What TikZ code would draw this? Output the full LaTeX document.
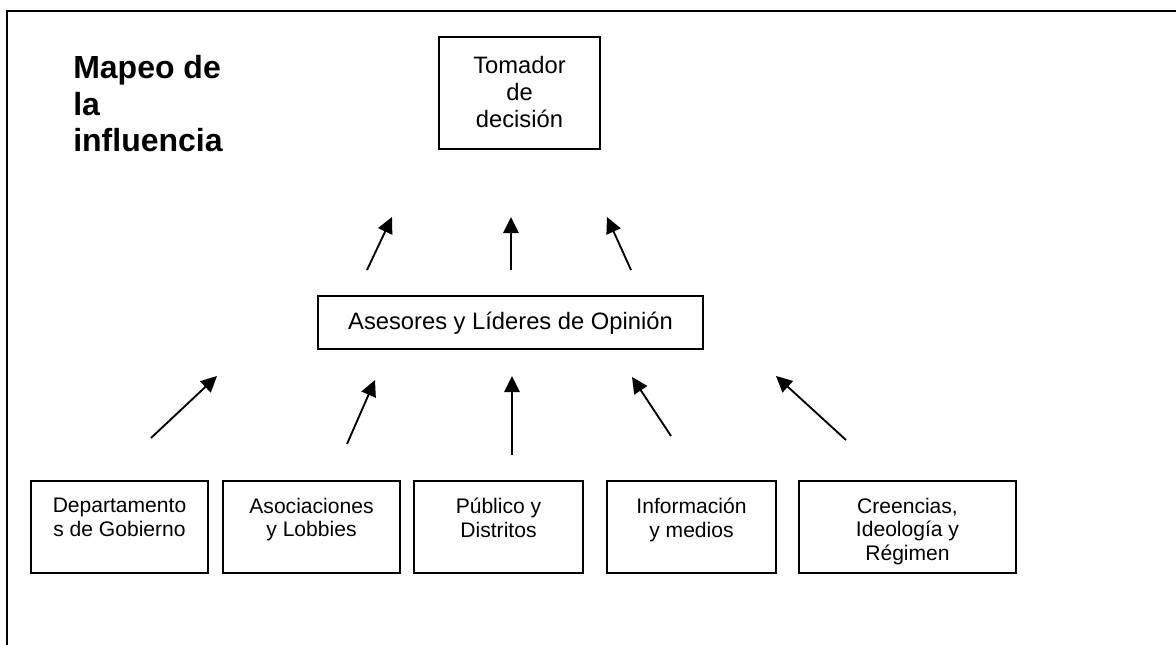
\documentclass[tikz,border=0pt]{standalone}
\usepackage{fontspec}
\setmainfont{Liberation Sans}
\usetikzlibrary{arrows.meta}
\begin{document}
\begin{tikzpicture}[x=0.75pt,y=-0.75pt,
  box/.style={draw, line width=1.5pt, inner sep=0pt},
  lbl/.style={inner sep=0pt, align=center, anchor=north, font=\fontsize{17.8}{20.3}\selectfont},
  slbl/.style={inner sep=0pt, align=center, anchor=north, font=\fontsize{15.8}{17.5}\selectfont},
  ttl/.style={inner sep=0pt, align=left, anchor=north west, font=\bfseries\fontsize{24}{27.5}\selectfont},
  arr/.style={line width=1.4pt, -{Triangle[length=12pt,width=11.5pt]}},
  frame/.style={line width=1.5pt}]
\useasboundingbox (0,0) rectangle (1176,645);
\draw[frame] (7,645) -- (7,11) -- (1176,11);

\node[ttl] (title) at (73,55) {Mapeo de\\la\\influencia};

\node[box, minimum width=120.75pt, minimum height=84pt] (top) at (519.5,93) {};
\node[lbl] (toptxt) at ([yshift=-15pt]top.north) {Tomador\\de\\decisión};

\node[box, minimum width=288.75pt, minimum height=39.75pt] (mid) at (510.5,322.5) {};
\node[lbl, anchor=center] (midtxt) at ([yshift=-0.75pt]mid.center) {Asesores y Líderes de Opinión};

\node[box, minimum width=132.75pt, minimum height=69pt] (b1) at (119.5,527) {};
\node[box, minimum width=132.75pt, minimum height=69pt] (b2) at (311.5,527) {};
\node[box, minimum width=126.75pt, minimum height=69pt] (b3) at (498.5,527) {};
\node[box, minimum width=126.75pt, minimum height=69pt] (b4) at (691.5,527) {};
\node[box, minimum width=162.75pt, minimum height=69pt] (b5) at (907.5,527) {};
\node[slbl] (t1) at ([yshift=-13.5pt]b1.north) {Departamento\\s de Gobierno};
\node[slbl] (t2) at ([yshift=-13.5pt]b2.north) {Asociaciones\\y Lobbies};
\node[slbl] (t3) at ([yshift=-13.5pt]b3.north) {Público y\\Distritos};
\node[slbl] (t4) at ([yshift=-13.5pt]b4.north) {Información\\y medios};
\node[slbl] (t5) at ([yshift=-13.5pt]b5.north) {Creencias,\\Ideología y\\Régimen};

\coordinate (u1s) at (367,270); \coordinate (u1e) at (392,217);
\coordinate (u2s) at (511,270); \coordinate (u2e) at (511,217);
\coordinate (u3s) at (631,270); \coordinate (u3e) at (607,217);
\coordinate (l1s) at (151,438); \coordinate (l1e) at (217,376);
\coordinate (l2s) at (347,444); \coordinate (l2e) at (375,380);
\coordinate (l3s) at (512,455); \coordinate (l3e) at (512,376);
\coordinate (l4s) at (671,436); \coordinate (l4e) at (632,377);
\coordinate (l5s) at (846,440); \coordinate (l5e) at (776,376);

\draw[arr] (u1s) -- (u1e);
\draw[arr] (u2s) -- (u2e);
\draw[arr] (u3s) -- (u3e);
\draw[arr] (l1s) -- (l1e);
\draw[arr] (l2s) -- (l2e);
\draw[arr] (l3s) -- (l3e);
\draw[arr] (l4s) -- (l4e);
\draw[arr] (l5s) -- (l5e);
\end{tikzpicture}
\end{document}
